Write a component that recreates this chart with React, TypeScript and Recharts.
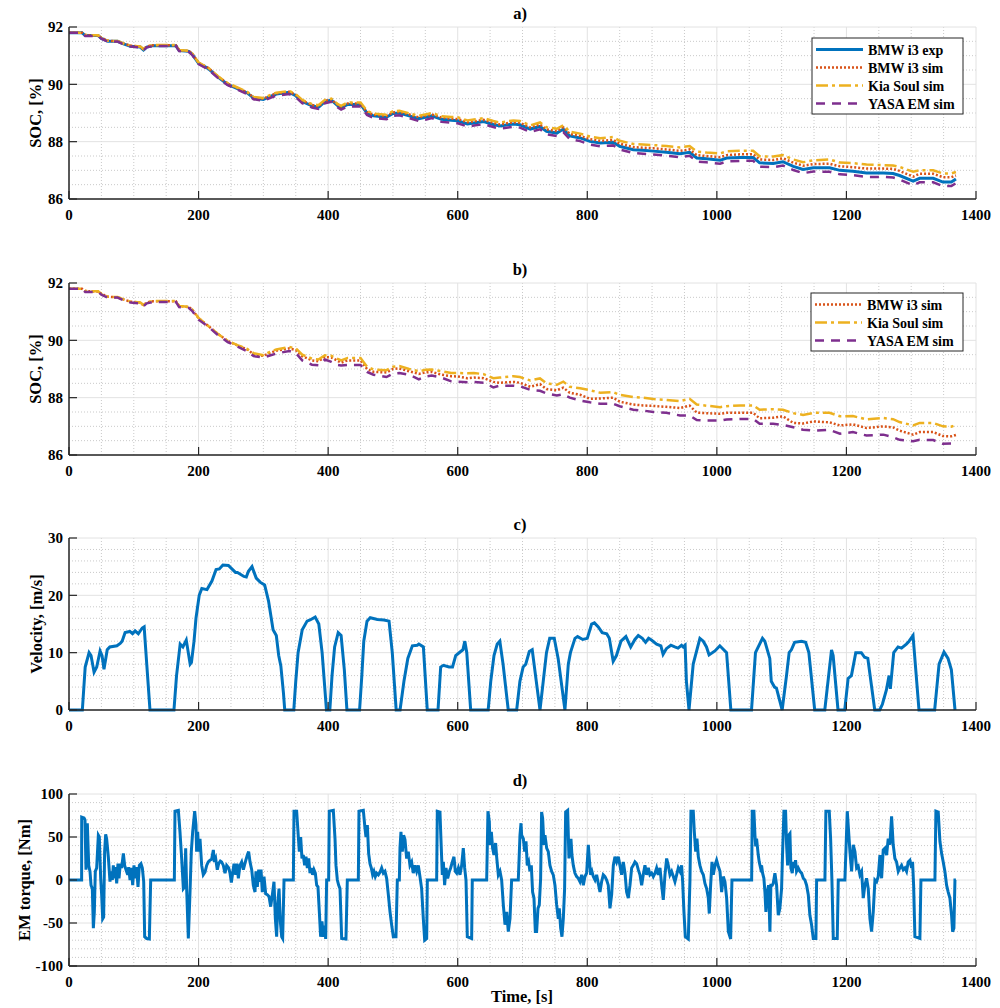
import React from 'react';
import { LineChart, Line, XAxis, YAxis, CartesianGrid } from 'recharts';

// ---- data ----

// shared time grid for the SOC curves, s
const socTime = [
  0, 20, 25, 45, 50, 60, 75, 85, 95, 110,
  115, 120, 130, 165, 170, 185, 190, 200, 215, 230,
  245, 260, 275, 285, 300, 310, 320, 340, 350, 360,
  375, 385, 395, 405, 415, 420, 430, 450, 460, 470,
  490, 500, 510, 525, 540, 550, 560, 575, 590, 600,
  615, 625, 640, 655, 665, 686, 696, 712, 727, 737,
  753, 763, 773, 789, 804, 820, 840, 850, 871, 886,
  902, 922, 943, 958, 969, 984, 1005, 1015, 1036, 1056,
  1066, 1087, 1102, 1118, 1133, 1149, 1174, 1190, 1210, 1231,
  1257, 1272, 1282, 1303, 1313, 1334, 1349, 1362, 1369,
];

// panel a)
const socExpA = [
  91.8, 91.8, 91.7, 91.7, 91.6, 91.5, 91.5, 91.4, 91.33, 91.3,
  91.2, 91.3, 91.35, 91.35, 91.18, 91.15, 91.05, 90.73, 90.55, 90.25,
  90.0, 89.85, 89.7, 89.52, 89.47, 89.57, 89.66, 89.72, 89.6, 89.4,
  89.25, 89.2, 89.4, 89.45, 89.25, 89.18, 89.3, 89.3, 89.0, 88.9,
  88.85, 88.98, 89.0, 88.9, 88.8, 88.85, 88.9, 88.78, 88.75, 88.73,
  88.62, 88.65, 88.7, 88.6, 88.55, 88.62, 88.59, 88.44, 88.53, 88.36,
  88.3, 88.44, 88.2, 88.13, 88.01, 87.95, 87.98, 87.84, 87.72, 87.7,
  87.67, 87.63, 87.58, 87.63, 87.43, 87.4, 87.35, 87.43, 87.45, 87.45,
  87.26, 87.24, 87.3, 87.14, 87.03, 87.09, 87.09, 87.0, 86.97, 86.91,
  86.91, 86.89, 86.82, 86.62, 86.72, 86.72, 86.59, 86.59, 86.7,
];
const socBmwA = [
  91.8, 91.8, 91.72, 91.7, 91.62, 91.52, 91.5, 91.42, 91.35, 91.32,
  91.22, 91.32, 91.36, 91.36, 91.2, 91.16, 91.08, 90.75, 90.57, 90.27,
  90.02, 89.87, 89.72, 89.54, 89.5, 89.6, 89.68, 89.74, 89.63, 89.43,
  89.28, 89.23, 89.42, 89.47, 89.28, 89.22, 89.33, 89.33, 89.03, 88.94,
  88.9, 89.02, 89.04, 88.95, 88.85, 88.9, 88.95, 88.84, 88.8, 88.79,
  88.68, 88.71, 88.76, 88.66, 88.6, 88.68, 88.66, 88.5, 88.6, 88.43,
  88.37, 88.5, 88.27, 88.2, 88.09, 88.03, 88.06, 87.93, 87.81, 87.79,
  87.77, 87.73, 87.68, 87.73, 87.53, 87.5, 87.46, 87.53, 87.56, 87.56,
  87.38, 87.36, 87.42, 87.27, 87.16, 87.22, 87.23, 87.14, 87.11, 87.06,
  87.06, 87.05, 86.98, 86.78, 86.88, 86.88, 86.76, 86.76, 86.82,
];
const socKiaA = [
  91.8, 91.8, 91.72, 91.71, 91.62, 91.52, 91.51, 91.42, 91.35, 91.32,
  91.23, 91.33, 91.37, 91.37, 91.2, 91.17, 91.08, 90.76, 90.58, 90.28,
  90.04, 89.89, 89.74, 89.56, 89.52, 89.62, 89.71, 89.77, 89.66, 89.46,
  89.31, 89.27, 89.46, 89.5, 89.31, 89.25, 89.37, 89.37, 89.07, 88.98,
  88.94, 89.06, 89.08, 88.99, 88.9, 88.95, 89.0, 88.89, 88.86, 88.85,
  88.74, 88.77, 88.82, 88.72, 88.67, 88.74, 88.72, 88.57, 88.67, 88.5,
  88.45, 88.57, 88.35, 88.28, 88.18, 88.12, 88.16, 88.03, 87.92, 87.9,
  87.88, 87.85, 87.8, 87.85, 87.65, 87.62, 87.59, 87.66, 87.68, 87.68,
  87.49, 87.48, 87.53, 87.38, 87.28, 87.35, 87.38, 87.27, 87.25, 87.2,
  87.18, 87.17, 87.12, 86.95, 87.0, 87.0, 86.89, 86.89, 86.94,
];
const socYasaA = [
  91.8, 91.8, 91.69, 91.69, 91.59, 91.49, 91.49, 91.39, 91.32, 91.29,
  91.19, 91.29, 91.34, 91.34, 91.16, 91.13, 91.03, 90.71, 90.52, 90.22,
  89.97, 89.82, 89.66, 89.48, 89.42, 89.52, 89.61, 89.66, 89.55, 89.34,
  89.19, 89.14, 89.34, 89.39, 89.19, 89.12, 89.23, 89.23, 88.93, 88.83,
  88.78, 88.9, 88.92, 88.82, 88.72, 88.76, 88.82, 88.69, 88.66, 88.64,
  88.53, 88.56, 88.61, 88.51, 88.45, 88.52, 88.49, 88.34, 88.43, 88.26,
  88.2, 88.33, 88.09, 88.02, 87.9, 87.84, 87.87, 87.73, 87.6, 87.58,
  87.55, 87.51, 87.46, 87.51, 87.31, 87.28, 87.23, 87.31, 87.33, 87.33,
  87.13, 87.11, 87.17, 87.01, 86.9, 86.96, 86.95, 86.86, 86.83, 86.77,
  86.77, 86.75, 86.68, 86.48, 86.58, 86.58, 86.45, 86.45, 86.55,
];

// panel b)
const socBmwB = [
  91.8, 91.8, 91.72, 91.7, 91.62, 91.52, 91.5, 91.42, 91.35, 91.32,
  91.22, 91.32, 91.36, 91.36, 91.2, 91.16, 91.08, 90.77, 90.5, 90.22,
  89.98, 89.82, 89.68, 89.52, 89.46, 89.56, 89.64, 89.72, 89.66, 89.45,
  89.3, 89.27, 89.42, 89.4, 89.28, 89.22, 89.3, 89.3, 89.0, 88.9,
  88.88, 89.0, 89.02, 88.92, 88.83, 88.88, 88.9, 88.8, 88.75, 88.74,
  88.68, 88.7, 88.68, 88.55, 88.52, 88.55, 88.52, 88.38, 88.47, 88.3,
  88.26, 88.35, 88.17, 88.1, 87.96, 87.97, 88.0, 87.86, 87.76, 87.73,
  87.71, 87.68, 87.64, 87.72, 87.48, 87.46, 87.44, 87.47, 87.47, 87.47,
  87.28, 87.3, 87.35, 87.12, 87.1, 87.17, 87.14, 87.03, 87.07, 86.94,
  87.0, 86.96, 86.85, 86.71, 86.8, 86.8, 86.66, 86.65, 86.7,
];
const socKiaB = [
  91.8, 91.8, 91.72, 91.71, 91.62, 91.52, 91.51, 91.42, 91.35, 91.32,
  91.23, 91.33, 91.37, 91.37, 91.2, 91.17, 91.08, 90.78, 90.5, 90.22,
  89.98, 89.83, 89.7, 89.55, 89.48, 89.6, 89.68, 89.77, 89.72, 89.5,
  89.36, 89.33, 89.48, 89.46, 89.35, 89.3, 89.38, 89.38, 89.08, 88.98,
  88.96, 89.08, 89.1, 89.0, 88.92, 88.97, 88.98, 88.92, 88.86, 88.86,
  88.85, 88.86, 88.82, 88.68, 88.7, 88.75, 88.72, 88.6, 88.67, 88.5,
  88.45, 88.56, 88.38, 88.33, 88.26, 88.17, 88.19, 88.1, 88.02, 88.0,
  87.95, 87.92, 87.88, 87.96, 87.76, 87.72, 87.67, 87.7, 87.73, 87.73,
  87.58, 87.6, 87.58, 87.46, 87.4, 87.47, 87.47, 87.35, 87.36, 87.24,
  87.29, 87.25, 87.15, 87.03, 87.12, 87.12, 87.0, 86.99, 87.05,
];
const socYasaB = [
  91.8, 91.8, 91.69, 91.69, 91.59, 91.49, 91.49, 91.39, 91.32, 91.29,
  91.19, 91.29, 91.34, 91.34, 91.16, 91.13, 91.03, 90.72, 90.48, 90.18,
  89.94, 89.78, 89.62, 89.45, 89.4, 89.47, 89.54, 89.63, 89.56, 89.3,
  89.15, 89.13, 89.33, 89.25, 89.14, 89.12, 89.14, 89.14, 88.9, 88.8,
  88.72, 88.84, 88.86, 88.8, 88.64, 88.74, 88.77, 88.7, 88.57, 88.56,
  88.54, 88.55, 88.52, 88.36, 88.42, 88.42, 88.4, 88.27, 88.24, 88.15,
  88.08, 88.12, 88.0, 87.9, 87.84, 87.79, 87.79, 87.7, 87.58, 87.55,
  87.5, 87.47, 87.38, 87.38, 87.22, 87.2, 87.2, 87.24, 87.26, 87.26,
  87.09, 87.09, 87.05, 86.97, 86.88, 86.85, 86.88, 86.74, 86.8, 86.68,
  86.71, 86.62, 86.53, 86.48, 86.53, 86.52, 86.39, 86.4, 86.42,
];

// panel c) velocity [t, m/s]
const velocityTrace: [number, number][] = [
  [0, 0], [20.6, 0], [25, 7.5], [31, 10], [34, 9.5], [38.7, 6.6], [42.8, 7.5], [48, 10.3], [51, 9.5], [54, 7.1],
  [59, 10.5], [63, 11], [74, 11.2], [79, 11.6], [82, 12], [86.6, 13.5], [94, 13.7], [98, 13.3], [102, 13.8], [107, 13.3],
  [113, 14.3], [116, 14.5], [120, 8], [125, 0], [162, 0], [166, 6], [171.6, 11.5], [175.8, 11], [181, 12.2], [187, 8],
  [189, 8.3], [193, 12], [196, 16], [201, 20], [205, 21.2], [213, 21], [220.6, 22.5], [227, 24.5], [232, 24.6], [237.6, 25.3],
  [246, 25.2], [257, 24], [260, 24], [270, 23.3], [273.7, 23.2], [277, 24.2], [282.5, 25], [289, 23], [295, 22.3], [302, 21.8],
  [308, 19], [315, 14], [320, 13], [323.7, 9.5], [327, 7.7], [331, 3], [333, 0], [347, 0], [350, 5], [353.6, 10],
  [360, 14], [367.5, 15.5], [372, 15.7], [380, 16.2], [385.6, 15], [390.7, 10], [397.4, 0], [402.6, 0], [406, 6], [410, 11],
  [415.5, 13.5], [420, 13], [425, 7], [429, 0], [448.5, 0], [452, 6], [455, 12], [460, 15.5], [465, 16.1], [476, 15.8],
  [486, 15.7], [494, 15.5], [499, 10], [505, 0], [511, 0], [517, 5], [523, 9], [530, 11.2], [537.6, 11.3], [540, 11.5],
  [547, 11], [553, 0], [569.6, 0], [573.7, 7.5], [578, 7.8], [586.6, 7.5], [592, 7.5], [596.9, 9.5], [604.6, 10.2], [608, 10.5],
  [611, 12], [614, 10], [620, 0], [647, 0], [651, 5], [656, 9.5], [661, 11.5], [665, 12], [670, 8], [678, 0],
  [691, 0], [696, 5], [701, 7.5], [705, 8], [710.5, 10.2], [715, 10.5], [719, 7], [727, 0], [732, 5], [737, 10],
  [742, 12.5], [749, 12.5], [755, 9], [765.5, 0], [770.7, 8], [774, 10], [781, 12.5], [785, 12.8], [793, 12.3], [800, 12.5],
  [806.7, 15], [811, 15.2], [817, 14.5], [823, 13.5], [830, 13.3], [834, 12.5], [840, 8.5], [845, 9.5], [852, 12], [859.6, 12.8],
  [867, 11], [873.5, 12.3], [878.7, 13], [885, 12.5], [890, 11.8], [894.6, 12.5], [899, 12.2], [907, 11.5], [913.6, 11.2], [917, 9.7],
  [922, 10.7], [929, 11.3], [935, 11], [940, 10.8], [945.5, 11.3], [948, 11], [951, 11.3], [953, 5], [957, 0], [963.5, 8],
  [973.8, 12.5], [979, 12], [984, 11], [988, 9.6], [997, 10.3], [1004.6, 11.2], [1015, 10], [1021.6, 0], [1053.5, 0], [1059.6, 10],
  [1070.4, 12.5], [1074, 12], [1081.7, 9], [1084, 5], [1089, 4], [1092, 3.8], [1100.8, 0], [1107.5, 6], [1111.6, 10], [1115, 10.5],
  [1120, 11.8], [1130.6, 12], [1137, 11.8], [1142, 10], [1151, 0], [1166.6, 0], [1177, 10.5], [1179.5, 9.5], [1187, 0], [1197.4, 0],
  [1202.6, 5.5], [1207.7, 6], [1214.4, 10], [1223, 10], [1228, 9.2], [1233, 9], [1243.7, 0], [1251.4, 0], [1255.5, 1], [1261.7, 3.5],
  [1265.8, 6], [1267.8, 3.7], [1273, 10], [1279.7, 11], [1285, 10.8], [1292.5, 11.5], [1296.7, 12], [1302.8, 13], [1312, 0], [1336.2, 0],
  [1343, 8], [1350.6, 10.1], [1356.8, 9], [1362, 7], [1367.6, 0],
];

// panel d) EM torque [t, Nm]
const torqueTrace: [number, number][] = [
  [0, 0], [19.5, 0], [19.6, 73], [23.2, 72], [24.7, 70], [26.2, 12], [28.3, 66], [30.4, 17], [32.4, 10], [34, -6],
  [36, -10], [37.6, -56], [39.1, -37], [40.6, 10], [42.7, 14], [45.3, 52], [46.8, 50], [48.9, 2], [50.4, -17], [52, -45],
  [53.5, -43], [55, 33], [56.6, 53], [58.1, 48], [60.7, 27], [63.3, -2], [64.8, 10], [66.9, 0], [68.4, 17], [70, 2],
  [72, 15], [73.6, -4], [75.6, 19], [77.2, 2], [79.2, 19], [81.3, 14], [83.9, 31], [85.9, 17], [88, 12], [90.6, 6],
  [92.1, 15], [94.2, 0], [96.2, 14], [98.3, -6], [100.3, 17], [102.4, 2], [104.4, 15], [106.5, -8], [108.6, 17], [111.1, 19],
  [113.2, 14], [115.3, -2], [116.8, -66], [119.9, -68], [124, -68.6], [126.1, 0], [162.6, 0],
  [163.6, 80], [168.8, 81], [171.3, 56], [173.9, 25], [176.5, -10], [178.5, -8], [180.1, 37], [181.6, -10], [184.2, -68], [186.8, -14],
  [188.8, 33], [190.9, 56], [194, 80], [196, 64], [197, 33], [198.6, 56], [200.1, 33], [202.2, 48], [204.8, 17], [207.3, 6],
  [209.9, 9], [212.5, 17], [215, 21], [217.6, 23], [220.2, 24], [222.8, 35], [224.3, 21], [226.4, 25], [228.9, 12], [231, 19],
  [233.6, 22], [235.6, 21], [238.2, 17], [240.8, 8], [243.4, 17], [246.5, 14], [248.5, 8], [250.6, -3], [252.6, 8], [254.7, 19],
  [257.3, 6], [259.3, 19], [261.4, 2], [263.9, 17], [266.5, 21], [269.1, 12], [272.2, 21], [275.3, 29], [277.3, 33], [279.4, 21],
  [282, 12], [284.5, -6], [287.1, -14], [288.6, 10], [290.7, -8], [292.8, 12], [294.8, -2], [296.4, 12], [298.4, -14], [301, 4],
  [303.6, -16], [306.1, -17], [308.7, -19], [311.3, -31], [313.9, -17], [316.4, -2], [318.5, -45], [320.5, -66], [322.1, -29], [324.2, -10],
  [326.2, -48], [328.3, -66], [329.8, -68], [331.9, 0], [346.3, 0],
  [347.3, 80], [351.4, 80], [354, 50], [355.5, 33], [357.6, 50], [359.6, 25], [361.6, 29], [363.7, 17], [365.8, 27], [367.9, 14],
  [369.9, 25], [372, 8], [374, 14], [376, 6], [378.1, 12], [380.2, 8], [382.3, -6], [384.3, -8], [386.4, -37], [388.4, -66],
  [390.5, -48], [392.5, -66], [394.6, -53], [396.2, -68.6], [397.7, 0], [400.8, 0], [401.8, 80], [408, 81], [410.6, 48], [412.1, 17],
  [414.2, 0], [416.2, -6], [418.3, -10], [420.9, -68], [427.5, -68.6], [429.6, 0], [446.6, 0], [447.6, 80], [454.3, 81], [456.9, 60],
  [458.4, 50], [460.5, 64], [462.5, 31], [464.6, 19], [466.6, 14], [468.7, 6], [470.7, 10], [472.8, 4], [474.9, 8], [477.5, 6],
  [480, 9], [482.6, 14], [485.2, 8], [487.7, 10], [490.3, 2], [492.9, -17], [495.5, -37], [498, -52], [500.6, -66], [504.7, -66],
  [506.8, 0], [509.9, 0], [510.9, 37], [512.4, 56], [514.5, 33], [516.5, 52], [518.6, 47], [521.2, 25], [523.7, 33], [526.3, 17],
  [528.9, 21], [531.4, 8], [534, 17], [536.6, 10], [539.2, 17], [541.7, 4], [544.3, -10], [546.9, -45], [549, -70], [552.1, -68],
  [553.1, 0], [567.5, 0], [568.5, 80], [572.6, 79], [574.1, 48], [576.2, 6], [577.8, 21], [579.8, -6], [581.9, 14], [584.5, 2],
  [587.1, 10], [589.1, 14], [591.7, 21], [594.2, 27], [596.3, 10], [598.4, 8], [601, 14], [603.5, 6], [606.1, 17], [608.6, 37],
  [610.7, 14], [612.8, 0], [614.8, -66], [621.5, -68], [622.5, 0], [644.7, 0], [646.7, 80], [648.8, 68], [649.8, 41], [651.9, 56],
  [653.9, 37], [656, 29], [658.5, 43], [660.1, 27], [662.7, 6], [665.2, 10], [667.8, 0], [670.4, -29], [673, -52], [675.6, -37],
  [678.1, -60], [680.7, -45], [683.2, 0], [693.5, 0], [696.1, 52], [697.7, 66],
  [698.7, 52], [701.3, 48], [703.3, 33], [705.4, 45], [707.4, 17], [709.5, 21], [711.5, 10], [713.6, 17], [715.6, -14], [717.7, -21],
  [719.8, -60], [721.8, -60], [723.9, -33], [725.9, -29], [728, 2], [729.5, 79], [731.1, 72], [733.1, 41], [734.7, 52], [737.3, 37],
  [739.8, 33], [742.4, 17], [745, 10], [747.5, 6], [750.1, -6], [752.7, -29], [755.3, -45], [756.8, -33], [758.9, -56], [760.9, -66],
  [763, -45], [765, -10], [766.6, 79], [769.7, 81], [771.7, 25], [773.2, 41], [774.8, 48], [776.3, 29], [778.4, 17], [780.9, 8],
  [783.6, 4], [786.1, 2], [788.7, -2], [791.3, 6], [793.9, -6], [796.4, 4], [799, 8], [801.6, 41], [803.1, 25], [805.2, 6],
  [807.2, 10], [809.3, 4], [811.9, 0], [814.4, 6], [817, -4], [819.6, -14], [822.1, -2], [824.7, 6], [827.3, 4], [829.9, 0],
  [832.4, -6], [835, -33], [837.6, -17], [840.2, 17], [842.7, 27], [845.3, 21], [847.9, 27], [850.4, 17], [853, 6], [855.6, 21],
  [858.2, 8], [860.7, -14], [863.3, -21], [865.9, -6], [868.5, 14], [871, 17], [873.6, 21], [876.2, 19], [878.7, 12], [881.3, 6],
  [883.9, -6], [886.4, 6], [889, 17], [891.6, 6], [894.2, 14], [896.7, 6], [899.3, 8], [901.9, 4], [904.5, 8], [907, 14],
  [909.6, 6], [912.2, 14], [914.8, -6], [917.3, -23], [919.9, 6], [922.5, 25], [925, 17], [927.6, 6], [930.2, 10], [932.8, 4],
  [935.3, -2], [937.9, 6], [940.5, 14], [943.1, 10], [945.6, 17], [947.2, -2], [949.2, -37], [951.3, -66], [955.9, -68.6], [958.5, 0],
  [960, 80], [963.6, 80], [965.2, 56], [967.3, 33], [969.3, 48], [971.4, 27], [973.9, 17], [976.5, 10], [979.1, 6], [981.6, -4],
  [984.2, -10], [986.8, -21], [988.3, -39], [990.4, -6], [992.5, 21], [994.5, 6], [997.1, 17], [999.6, 23], [1002.2, 16], [1004.8, 10],
  [1007.4, -14], [1009.9, 4], [1012.5, -2], [1015.1, -21], [1017.7, -60], [1021.3, -68.6], [1023.3, 0], [1053.7, 0],
  [1054.6, 80], [1057.2, 80], [1058.8, 52], [1060, 39], [1061.3, 48], [1063.9, 29], [1065.4, 21], [1067.5, 14], [1069, 17], [1070.6, 8],
  [1072.6, 2], [1074.2, -14], [1075.7, -37], [1077.8, -14], [1079.8, -6], [1081.9, -60], [1083.4, -6], [1085.5, -6], [1087, -4], [1089.6, 8],
  [1092.2, -6], [1094.8, -41], [1097.3, -33], [1099.9, -10], [1101.5, 33], [1103.5, 80], [1106.1, 80], [1107.6, 41], [1109.2, 17], [1110.8, 52],
  [1112.8, 54], [1114.3, 14], [1116.4, 8], [1117.9, 21], [1119.5, 14], [1121.5, 23], [1123, 10], [1125.6, 14], [1128.2, 10], [1130.8, 8],
  [1133.4, 2], [1135.9, 0], [1138.5, -6], [1141.1, -17], [1143.6, -41], [1146.2, -52], [1148.8, -68], [1152.9, -68], [1154, 0], [1166.8, 0],
  [1168.3, 80], [1173.5, 80], [1175.6, 48], [1177.6, 0], [1179.7, -68], [1185.8, -68], [1187.4, 0], [1197.6, 0], [1199.2, 33], [1201.3, 80],
  [1205.4, 33], [1208, 10], [1210.5, 41], [1213.1, 33], [1215.7, 14], [1218.2, 16], [1220.8, 6], [1223.4, 10], [1226, -21], [1228.5, -6],
  [1231.1, 2], [1233.7, -10], [1236.3, -45], [1238.8, -60], [1241.4, -37], [1244, 0], [1246.6, -2], [1249.1, 4], [1251.7, 29], [1254.3, 2],
  [1256.8, 35], [1259.4, 37], [1262, 29], [1264.5, 48], [1267.1, 41], [1269.7, 74], [1272.2, 41], [1274.8, 25], [1277.4, 21], [1280, 10],
  [1282.5, 14], [1285.1, 17], [1287.7, 12], [1290.3, 14], [1292.8, 10], [1295.4, 21], [1298, 23], [1300.6, 14], [1302.1, 21], [1303.7, -6],
  [1305.7, -66], [1313.4, -68], [1315, 0], [1336.6, 0], [1338.1, 80], [1341.7, 79], [1344.3, 45], [1346.9, 31], [1349.4, 21], [1352, 10],
  [1354.6, -6], [1357.1, -14], [1359.7, -21], [1362.3, -41], [1363.9, -60], [1365.9, -56], [1367.5, 0], [1369, 0],
];

const timeTicks = [0, 200, 400, 600, 800, 1000, 1200, 1400];
const socTicks = [86, 88, 90, 92];
const velocityTicks = [0, 10, 20, 30];
const torqueTicks = [-100, -50, 0, 50, 100];

// ---- styling ----
const BLUE = '#0072BD';
const ORANGE = '#D95319';
const YELLOW = '#EDB120';
const PURPLE = '#7E2F8E';
const AXIS = '#262626';
const FONT = "'Liberation Serif', 'Times New Roman', serif";
const tickStyle = { fill: '#000', fontSize: 15, fontWeight: 700, fontFamily: FONT };

const PLOT_TOP = 27;
const PLOT_H = 172;

const minorValues = (lo: number, hi: number, step: number, majors: number[]) => {
  const out: number[] = [];
  for (let v = lo; v <= hi + 1e-9; v += step) {
    const r = Math.round(v * 100) / 100;
    if (!majors.includes(r)) out.push(r);
  }
  return out;
};

const xMinor = minorValues(0, 1400, 50, timeTicks);

const socTableA = socTime.map((t, i) => ({
  t, exp: socExpA[i], bmw: socBmwA[i], kia: socKiaA[i], yasa: socYasaA[i],
}));
const socTableB = socTime.map((t, i) => ({
  t, bmw: socBmwB[i], kia: socKiaB[i], yasa: socYasaB[i],
}));
const velocityTable = velocityTrace.map(([t, v]) => ({ t, v }));
const torqueTable = torqueTrace.map(([t, v]) => ({ t, v }));

interface PanelProps {
  top: number;
  height: number;
  data: any[];
  domain: [number, number];
  ticks: number[];
  minorStep: number;
  children: React.ReactNode;
}

const Panel = ({ top, height, data, domain, ticks, minorStep, children }: PanelProps) => {
  const yMinor = minorValues(domain[0], domain[1], minorStep, ticks);
  const axisLine = { stroke: AXIS, strokeWidth: 1.5 };
  const tickLine = { stroke: AXIS, strokeWidth: 1.2 };
  return (
    <div style={{ position: 'absolute', left: 0, top }}>
      <LineChart
        width={1000}
        height={height}
        data={data}
        margin={{ top: PLOT_TOP, right: 24, left: 0, bottom: height - PLOT_TOP - PLOT_H - 30 }}
      >
        <CartesianGrid stroke="#c9c9c9" strokeDasharray="1 2" verticalValues={xMinor} horizontalValues={yMinor} />
        <CartesianGrid stroke="#e2e2e2" />
        <XAxis
          dataKey="t"
          type="number"
          domain={[0, 1400]}
          ticks={timeTicks}
          interval={0}
          height={30}
          tickSize={-8}
          tickMargin={18}
          axisLine={axisLine}
          tickLine={tickLine}
          tick={tickStyle}
        />
        <XAxis
          xAxisId="top"
          orientation="top"
          type="number"
          domain={[0, 1400]}
          ticks={timeTicks}
          interval={0}
          height={0}
          tickSize={-8}
          axisLine={axisLine}
          tickLine={tickLine}
          tick={false}
        />
        <YAxis
          type="number"
          domain={domain}
          ticks={ticks}
          interval={0}
          width={69}
          tickSize={-8}
          tickMargin={14}
          axisLine={axisLine}
          tickLine={tickLine}
          tick={tickStyle}
        />
        <YAxis
          yAxisId="r"
          orientation="right"
          type="number"
          domain={domain}
          ticks={ticks}
          interval={0}
          width={0}
          tickSize={-8}
          axisLine={axisLine}
          tickLine={tickLine}
          tick={false}
        />
        {children}
      </LineChart>
    </div>
  );
};

const LegendBox = ({ x, y, w, items }: { x: number; y: number; w: number; items: { label: string; color: string; dash?: string; width: number }[] }) => (
  <g>
    <rect x={x} y={y} width={w} height={items.length * 18 + 4} fill="#fff" stroke={AXIS} strokeWidth={1} />
    {items.map((it, i) => {
      const cy = y + 11.5 + i * 18;
      return (
        <g key={it.label}>
          <line x1={x + 4} x2={x + 51} y1={cy} y2={cy} stroke={it.color} strokeWidth={it.width} strokeDasharray={it.dash} />
          <text x={x + 56} y={cy + 5} fontFamily={FONT} fontWeight={700} fontSize={14} fill="#000">{it.label}</text>
        </g>
      );
    })}
  </g>
);

const App = () => {
  const lineBase = { type: 'linear' as const, dot: false, isAnimationActive: false, activeDot: false };
  const exp = { label: 'BMW i3 exp', color: BLUE, width: 3 };
  const bmw = { label: 'BMW i3 sim', color: ORANGE, dash: '2 2', width: 2.5 };
  const kia = { label: 'Kia Soul sim', color: YELLOW, dash: '12 4 3 4', width: 2.5 };
  const yasa = { label: 'YASA EM sim', color: PURPLE, dash: '9 7', width: 2.5 };
  const titleStyle = { fontFamily: FONT, fontWeight: 700, fontSize: 16.5, fill: '#000' };

  return (
    <div style={{ position: 'absolute', left: 0, top: 0, width: 1000, height: 1008, background: '#fff', fontFamily: FONT }}>
      <Panel top={0} height={256} data={socTableA} domain={[86, 92]} ticks={socTicks} minorStep={0.5}>
        <Line {...lineBase} dataKey="exp" stroke={exp.color} strokeWidth={exp.width} />
        <Line {...lineBase} dataKey="bmw" stroke={bmw.color} strokeWidth={bmw.width} strokeDasharray={bmw.dash} />
        <Line {...lineBase} dataKey="kia" stroke={kia.color} strokeWidth={kia.width} strokeDasharray={kia.dash} />
        <Line {...lineBase} dataKey="yasa" stroke={yasa.color} strokeWidth={yasa.width} strokeDasharray={yasa.dash} />
      </Panel>
      <Panel top={256} height={256} data={socTableB} domain={[86, 92]} ticks={socTicks} minorStep={0.5}>
        <Line {...lineBase} dataKey="bmw" stroke={bmw.color} strokeWidth={bmw.width} strokeDasharray={bmw.dash} />
        <Line {...lineBase} dataKey="kia" stroke={kia.color} strokeWidth={kia.width} strokeDasharray={kia.dash} />
        <Line {...lineBase} dataKey="yasa" stroke={yasa.color} strokeWidth={yasa.width} strokeDasharray={yasa.dash} />
      </Panel>
      <Panel top={511} height={256} data={velocityTable} domain={[0, 30]} ticks={velocityTicks} minorStep={2}>
        <Line {...lineBase} dataKey="v" stroke={BLUE} strokeWidth={3} />
      </Panel>
      <Panel top={767} height={241} data={torqueTable} domain={[-100, 100]} ticks={torqueTicks} minorStep={10}>
        <Line {...lineBase} dataKey="v" stroke={BLUE} strokeWidth={3} />
      </Panel>

      <svg width={1000} height={1008} style={{ position: 'absolute', left: 0, top: 0, pointerEvents: 'none' }}>
        <text x={520} y={18.5} textAnchor="middle" {...titleStyle}>a)</text>
        <text x={520} y={274.5} textAnchor="middle" {...titleStyle}>b)</text>
        <text x={520} y={529.5} textAnchor="middle" {...titleStyle}>c)</text>
        <text x={520} y={785.5} textAnchor="middle" {...titleStyle}>d)</text>

        <text transform="translate(41,113) rotate(-90)" textAnchor="middle" {...titleStyle}>SOC, [%]</text>
        <text transform="translate(41,369) rotate(-90)" textAnchor="middle" {...titleStyle}>SOC, [%]</text>
        <text transform="translate(41.5,624) rotate(-90)" textAnchor="middle" {...titleStyle}>Velocity, [m/s]</text>
        <text transform="translate(29.5,880) rotate(-90)" textAnchor="middle" {...titleStyle}>EM torque, [Nm]</text>

        <text x={522} y={1002} textAnchor="middle" {...titleStyle}>Time, [s]</text>

        <LegendBox x={812} y={38} w={151} items={[exp, bmw, kia, yasa]} />
        <LegendBox x={811} y={293} w={152} items={[bmw, kia, yasa]} />
      </svg>
    </div>
  );
};

export default App;
